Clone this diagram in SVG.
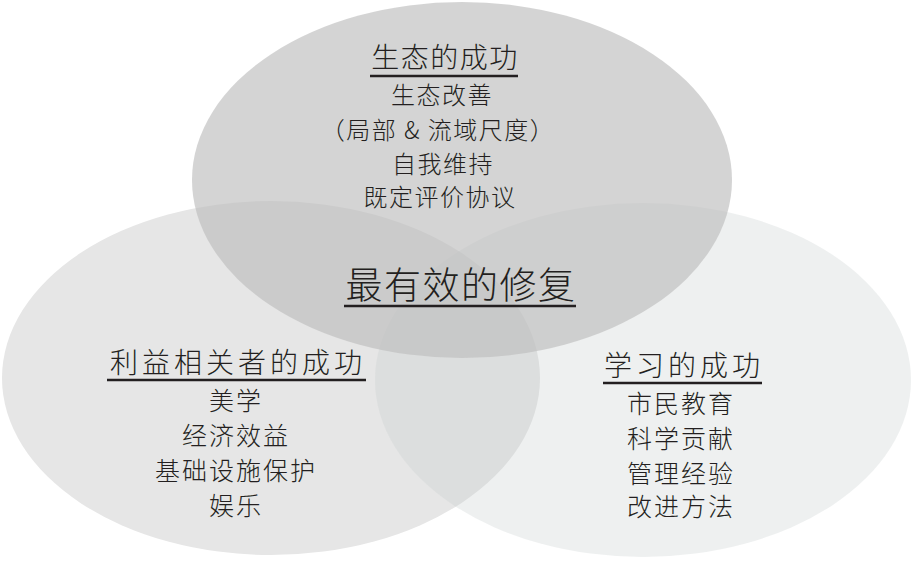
<svg xmlns="http://www.w3.org/2000/svg" width="921" height="564" viewBox="0 0 921 564">
<style>
text{font-family:"Noto Sans CJK SC","Noto Sans",sans-serif;font-weight:300;fill:#231f20;text-anchor:middle}
.t{font-size:28px;letter-spacing:1.5px}
.ts{font-size:28px;letter-spacing:4px}
.b{font-size:24px;letter-spacing:1.5px}
.bs{font-size:25px;letter-spacing:2px}
.c{font-size:37px;letter-spacing:1.5px}
.u{stroke:#231f20;stroke-width:2.6}
</style>
<rect width="921" height="564" fill="#ffffff"/>
<g id="stakeholder">
<ellipse cx="271" cy="378" rx="269" ry="177" fill="#e6e6e6"/>
</g>
<g id="learning">
<ellipse cx="643" cy="380" rx="268" ry="177" fill="#c8cccc" fill-opacity="0.3"/>
</g>
<g id="ecological">
<ellipse cx="462" cy="180" rx="270" ry="178" fill="#bdbdbd" fill-opacity="0.65"/>
</g>
<g id="labels-ecological">
<text class="t" x="445" y="68">生态的成功</text>
<line class="u" x1="370" y1="76" x2="518" y2="76"/>
<text class="b" x="442" y="104">生态改善</text>
<text class="b" x="438" y="139">（局部 &amp; 流域尺度）</text>
<text class="b" x="443" y="173">自我维持</text>
<text class="b" x="440" y="206">既定评价协议</text>
</g>
<g id="center">
<text class="c" x="461" y="299">最有效的修复</text>
<line class="u" x1="344" y1="306" x2="576" y2="306"/>
</g>
<g id="labels-stakeholder">
<text class="ts" x="238" y="373">利益相关者的成功</text>
<line class="u" x1="107" y1="380" x2="366" y2="380"/>
<text class="bs" x="236" y="410">美学</text>
<text class="bs" x="236" y="445">经济效益</text>
<text class="bs" x="236" y="480">基础设施保护</text>
<text class="bs" x="236" y="515">娱乐</text>
</g>
<g id="labels-learning">
<text class="ts" x="684" y="376">学习的成功</text>
<line class="u" x1="603" y1="383" x2="762" y2="383"/>
<text class="bs" x="681" y="413">市民教育</text>
<text class="bs" x="681" y="448">科学贡献</text>
<text class="bs" x="681" y="483">管理经验</text>
<text class="bs" x="681" y="516">改进方法</text>
</g>
<g id="connectors"></g>
</svg>
